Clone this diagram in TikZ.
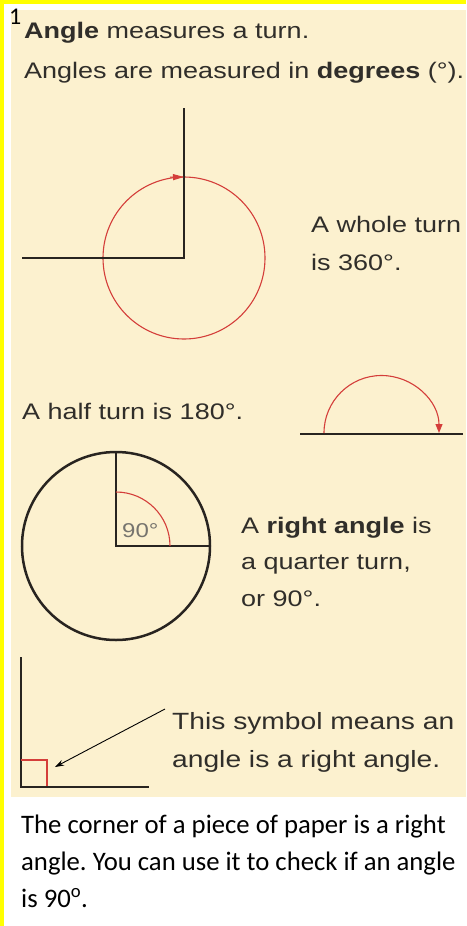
\documentclass[tikz,border=0pt]{standalone}
\usepackage{fontspec}
\setmainfont{Liberation Sans}
\newfontfamily\arw[FakeStretch=1.2]{Liberation Sans}
\newfontfamily\calib{Carlito}
\usetikzlibrary{arrows.meta}
\frenchspacing
\definecolor{cream}{RGB}{252,241,207}
\definecolor{ylw}{RGB}{255,255,0}
\definecolor{txt}{RGB}{48,46,42}
\definecolor{ink}{RGB}{40,36,32}
\definecolor{redl}{RGB}{212,62,58}
\definecolor{lab}{RGB}{118,116,110}
\tikzset{
  lbl/.style={anchor=base west, inner sep=0pt, text=txt, font={\arw\fontsize{22.5}{26}\selectfont}},
  lblbig/.style={lbl, font={\arw\fontsize{23.5}{27}\selectfont}},
  para/.style={anchor=base west, inner sep=0pt, text=black, font={\calib\fontsize{26.7}{32}\selectfont}},
  thick line/.style={draw=ink, line width=2.5pt, line cap=rect},
  red line/.style={draw=redl, line width=1.1pt},
}
\begin{document}
\begin{tikzpicture}[x=1pt,y=-1pt]
\useasboundingbox (0,0) rectangle (466,926);
% background and frame
\fill[white] (0,0) rectangle (466,926);
\fill[cream] (11,10) rectangle (466,797);
\fill[ylw] (0,0) rectangle (466,4);
\fill[ylw] (0,0) rectangle (4,926);
\node[anchor=base west, inner sep=0pt, font={\calib\fontsize{24}{28}\selectfont}] (num) at (9,24) {1};

% heading
\node[lbl] (t1) at (24,38) {\textbf{Angle} measures a turn.};
\node[lbl] (t2) at (24,78) {Angles are measured in \textbf{degrees} (°).};

% whole turn
\coordinate (wtop) at (184,108);
\coordinate (wc) at (184,258);
\coordinate (wleft) at (22,258);
\draw[red line] (wc) circle[radius=81];
\draw[thick line, line cap=butt] (wtop) -- (wc) -- (wleft);
\coordinate (wa1) at (170,177.2);
\coordinate (wa2) at (184,177);
\draw[red line, -{Triangle[length=11pt,width=6pt]}] (wa1) -- (wa2);
\node[lbl] (t3) at (311,232) {A whole turn};
\node[lbl] (t4) at (311,270) {is 360°.};

% half turn
\node[lbl] (t5) at (22,419) {A half turn is 180°.};
\coordinate (hl) at (300,434);
\coordinate (hr) at (463,434);
\draw[thick line, line cap=butt] (hl) -- (hr);
\coordinate (hs) at (324,433);
\draw[red line, -{Triangle[length=9pt,width=7pt]}] (hs) arc[start angle=180, end angle=360, radius=57.5];

% quarter turn
\coordinate (qc) at (116,546);
\coordinate (qt) at (116,452);
\coordinate (qr) at (210,546);
\draw[ink, line width=2.5pt] (qc) circle[radius=94];
\draw[thick line, line cap=butt] (qt) -- (qc) -- (qr);
\coordinate (qa) at (116,492);
\draw[red line] (qa) arc[start angle=270, end angle=360, radius=54];
\node[anchor=base west, inner sep=0pt, text=lab, font={\arw\fontsize{20}{24}\selectfont}] (n90) at (122,537) {90°};
\node[lbl] (t6) at (241,533) {A \textbf{right angle} is};
\node[lbl] (t7) at (241,569) {a quarter turn,};
\node[lbl] (t8) at (241,606) {or 90°.};

% right angle symbol
\coordinate (lt) at (21,657);
\coordinate (lc) at (21,787);
\coordinate (lr) at (149,787);
\draw[thick line, line cap=butt] (lt) -- (lc) -- (lr);
\coordinate (s1) at (21,760);
\coordinate (s2) at (47,760);
\coordinate (s3) at (47,786);
\draw[red line] (s1) -- (s2) -- (s3);
\coordinate (arS) at (165,709);
\coordinate (arE) at (55,767);
\draw[black, line width=0.9pt, -{Stealth[length=9pt,width=6pt]}] (arS) -- (arE);
\node[lblbig] (t9) at (172,729) {This symbol means an};
\node[lblbig] (t10) at (172,767) {angle is a right angle.};

% bottom paragraph
\node[para] (p1) at (21,833) {The corner of a piece of paper is a right};
\node[para] (p2) at (21,870) {angle. You can use it to check if an angle};
\node[para] (p3) at (21,907) {is 90\textsuperscript{o}.};
\end{tikzpicture}
\end{document}
